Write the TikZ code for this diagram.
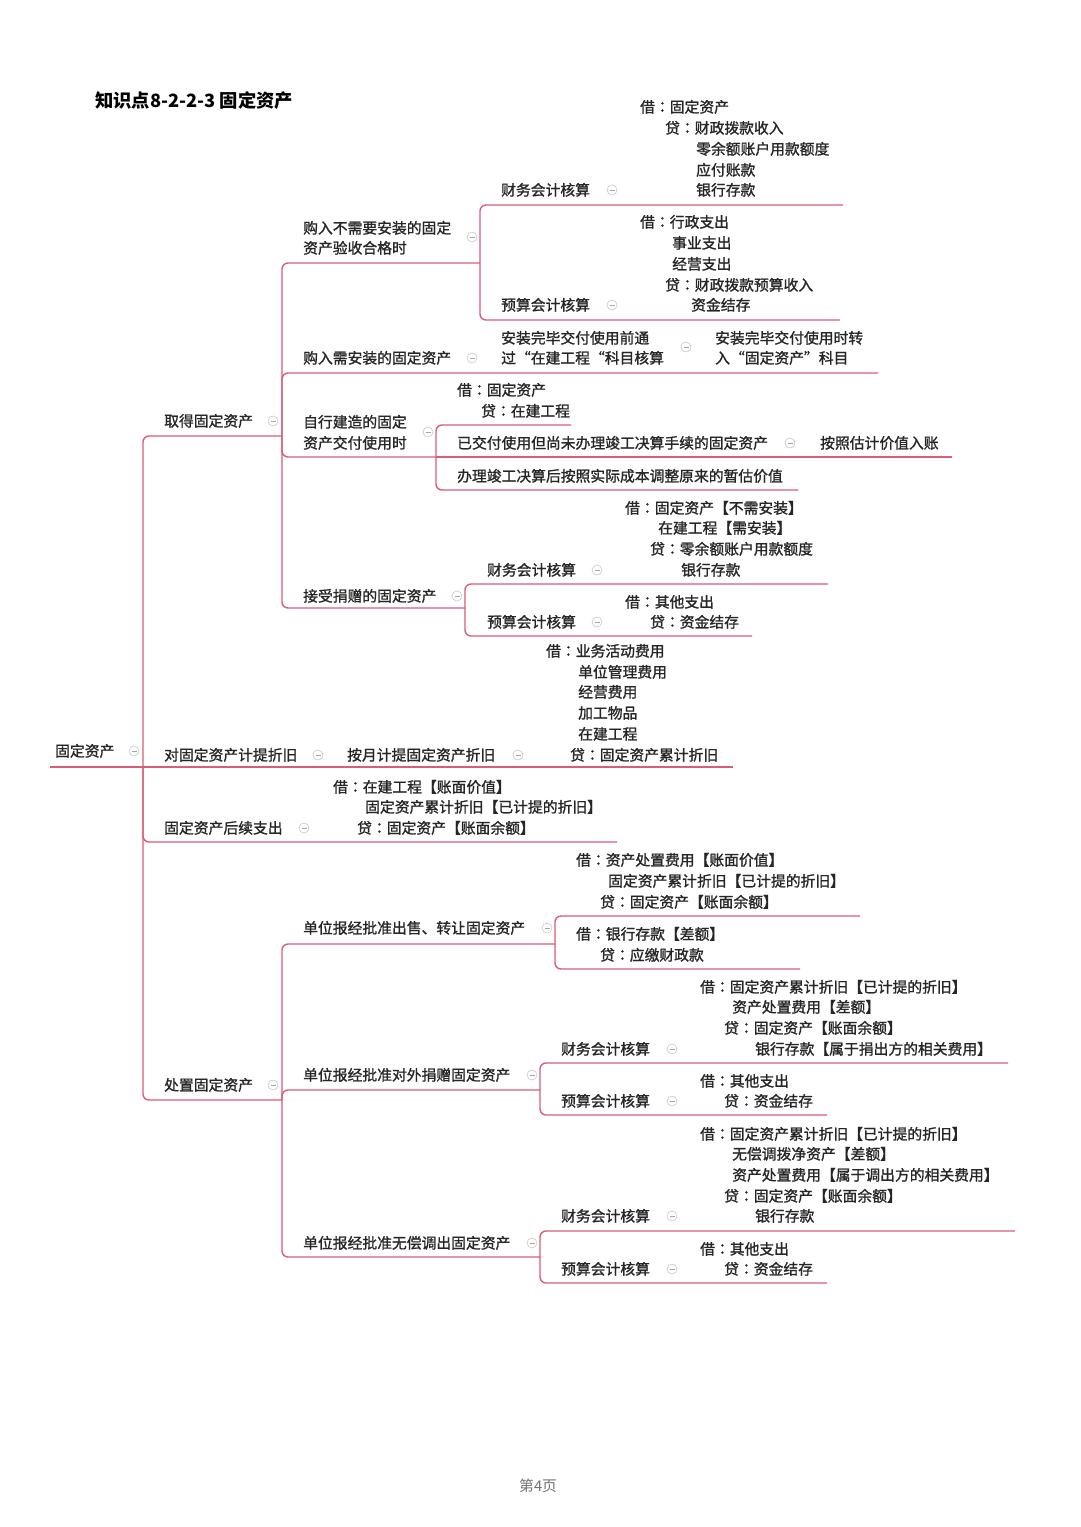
\documentclass[tikz,border=0pt]{standalone}
\usepackage{fontspec}
\newfontfamily\cjk[FakeBold=1.2]{Noto Sans CJK SC}
\newfontfamily\cjktc[FakeBold=1.2]{Noto Sans CJK TC}
\newfontfamily\cjkpg{Noto Sans CJK SC}
\newcommand\cl{{\cjktc ：}}
\definecolor{lc}{RGB}{217,92,122}
\definecolor{tc}{RGB}{38,38,38}
\begin{document}
\begin{tikzpicture}[x=1pt,y=-1pt,
  t/.style={anchor=base west, yshift=-5.5pt, inner sep=0pt, font=\cjk\fontsize{14.8}{20.7}\selectfont, text=tc},
  ln/.style={draw=lc, line width=1.4pt, rounded corners=6pt},
  tog/.style={circle, draw=black!22, fill=white, line width=0.6pt, minimum size=10pt, inner sep=0pt,
    path picture={\draw[black!35,line width=0.6pt] ([xshift=-2.5pt]path picture bounding box.center) -- ([xshift=2.5pt]path picture bounding box.center);}}]
\fill[white] (0,0) rectangle (1080,1527);
\useasboundingbox (0,0) rectangle (1080,1527);

% title and footer
\node[t, font=\cjkpg\bfseries\fontsize{18.3}{20}\selectfont, text=black, yshift=-1pt] (title) at (95,101) {知识点8-2-2-3 固定资产};
\node[t, text=black!55, font=\cjkpg\fontsize{14.8}{20.7}\selectfont] (pg) at (519,1486) {第4页};

% root
\node[t] (root) at (55,751) {固定资产};
\node[tog] (cr) at (134,751) {};
\coordinate (rs) at (50,767);
\coordinate (re) at (143,767);

% ===== 取得固定资产
\node[t] (a) at (164,421) {取得固定资产};
\node[tog] (ca) at (273,421) {};
\coordinate (ae) at (282,436);

% 购入不需要安装
\node[t] (a1a) at (303,228) {购入不需要安装的固定};
\node[t] (a1b) at (303,248) {资产验收合格时};
\node[tog] (ca1) at (472,237) {};
\coordinate (a1e) at (480,263);

\node[t] (a11) at (501,190) {财务会计核算};
\node[tog] (ca11) at (612,190) {};
\node[t] (a11l1) at (640,107) {借\cl 固定资产};
\node[t] (a11l2) at (665,128) {贷\cl 财政拨款收入};
\node[t] (a11l3) at (696,149) {零余额账户用款额度};
\node[t] (a11l4) at (696,170) {应付账款};
\node[t] (a11l5) at (696,190) {银行存款};
\coordinate (a11e) at (843,205);

\node[t] (a12) at (501,305) {预算会计核算};
\node[tog] (ca12) at (612,305) {};
\node[t] (a12l1) at (640,222) {借\cl 行政支出};
\node[t] (a12l2) at (672,243) {事业支出};
\node[t] (a12l3) at (672,264) {经营支出};
\node[t] (a12l4) at (665,285) {贷\cl 财政拨款预算收入};
\node[t] (a12l5) at (691,305) {资金结存};
\coordinate (a12e) at (840,320);

% 购入需安装
\node[t] (a2) at (303,358) {购入需安装的固定资产};
\node[tog] (ca2) at (472,358) {};
\node[t] (a21a) at (501,338) {安装完毕交付使用前通};
\node[t] (a21b) at (501,358) {过“在建工程“科目核算};
\node[tog] (ca21) at (686,347) {};
\node[t] (a22a) at (715,338) {安装完毕交付使用时转};
\node[t] (a22b) at (715,358) {入“固定资产”科目};
\coordinate (a2e) at (878,373);

% 自行建造
\node[t] (a3a) at (303,422) {自行建造的固定};
\node[t] (a3b) at (303,443) {资产交付使用时};
\node[tog] (ca3) at (428,432) {};
\coordinate (a3e) at (436,457);
\node[t] (a31a) at (457,390) {借\cl 固定资产};
\node[t] (a31b) at (481,411) {贷\cl 在建工程};
\coordinate (a31e) at (571,425);
\node[t] (a32) at (457,443) {已交付使用但尚未办理竣工决算手续的固定资产};
\node[tog] (ca32) at (790,443) {};
\node[t] (a321) at (820,443) {按照估计价值入账};
\coordinate (a32e) at (952,457);
\node[t] (a33) at (457,476) {办理竣工决算后按照实际成本调整原来的暂估价值};
\coordinate (a33e) at (798,490);

% 接受捐赠
\node[t] (a4) at (303,596) {接受捐赠的固定资产};
\node[tog] (ca4) at (457,596) {};
\coordinate (a4e) at (465,608);
\node[t] (a41) at (487,570) {财务会计核算};
\node[tog] (ca41) at (597,570) {};
\node[t] (a41l1) at (625,508) {借\cl 固定资产【不需安装】};
\node[t] (a41l2) at (658,528) {在建工程【需安装】};
\node[t] (a41l3) at (650,549) {贷\cl 零余额账户用款额度};
\node[t] (a41l4) at (681,570) {银行存款};
\coordinate (a41e) at (828,584);
\node[t] (a42) at (487,622) {预算会计核算};
\node[tog] (ca42) at (597,622) {};
\node[t] (a42l1) at (625,602) {借\cl 其他支出};
\node[t] (a42l2) at (650,622) {贷\cl 资金结存};
\coordinate (a42e) at (752,636);

% ===== 对固定资产计提折旧
\node[t] (b) at (164,755) {对固定资产计提折旧};
\node[tog] (cb) at (318,755) {};
\node[t] (b1) at (347,755) {按月计提固定资产折旧};
\node[tog] (cb1) at (518,755) {};
\node[t] (b1l1) at (546,651) {借\cl 业务活动费用};
\node[t] (b1l2) at (578,672) {单位管理费用};
\node[t] (b1l3) at (578,692) {经营费用};
\node[t] (b1l4) at (578,713) {加工物品};
\node[t] (b1l5) at (578,734) {在建工程};
\node[t] (b1l6) at (570,755) {贷\cl 固定资产累计折旧};
\coordinate (be) at (733,767);

% ===== 固定资产后续支出
\node[t] (c) at (164,828) {固定资产后续支出};
\node[tog] (cc) at (304,828) {};
\node[t] (cl1) at (333,787) {借\cl 在建工程【账面价值】};
\node[t] (cl2) at (365,807) {固定资产累计折旧【已计提的折旧】};
\node[t] (cl3) at (357,828) {贷\cl 固定资产【账面余额】};
\coordinate (ce) at (617,842);

% ===== 处置固定资产
\node[t] (d) at (164,1085) {处置固定资产};
\node[tog] (cd) at (273,1085) {};
\coordinate (de) at (282,1100);

\node[t] (d1) at (303,928) {单位报经批准出售、转让固定资产};
\node[tog] (cd1) at (547,928) {};
\coordinate (d1e) at (555,944);
\node[t] (d11l1) at (576,860) {借\cl 资产处置费用【账面价值】};
\node[t] (d11l2) at (608,881) {固定资产累计折旧【已计提的折旧】};
\node[t] (d11l3) at (600,902) {贷\cl 固定资产【账面余额】};
\coordinate (d11e) at (860,916);
\node[t] (d12l1) at (576,934) {借\cl 银行存款【差额】};
\node[t] (d12l2) at (600,955) {贷\cl 应缴财政款};
\coordinate (d12e) at (800,969);

\node[t] (d2) at (303,1075) {单位报经批准对外捐赠固定资产};
\node[tog] (cd2) at (532,1075) {};
\coordinate (d2e) at (540,1090);
\node[t] (d21) at (561,1049) {财务会计核算};
\node[tog] (cd21) at (672,1049) {};
\node[t] (d21l1) at (700,987) {借\cl 固定资产累计折旧【已计提的折旧】};
\node[t] (d21l2) at (732,1007) {资产处置费用【差额】};
\node[t] (d21l3) at (724,1028) {贷\cl 固定资产【账面余额】};
\node[t] (d21l4) at (755,1049) {银行存款【属于捐出方的相关费用】};
\coordinate (d21e) at (1008,1063);
\node[t] (d22) at (561,1101) {预算会计核算};
\node[tog] (cd22) at (672,1101) {};
\node[t] (d22l1) at (700,1081) {借\cl 其他支出};
\node[t] (d22l2) at (724,1101) {贷\cl 资金结存};
\coordinate (d22e) at (827,1115);

\node[t] (d3) at (303,1243) {单位报经批准无偿调出固定资产};
\node[tog] (cd3) at (532,1243) {};
\coordinate (d3e) at (540,1257);
\node[t] (d31) at (561,1216) {财务会计核算};
\node[tog] (cd31) at (672,1216) {};
\node[t] (d31l1) at (700,1134) {借\cl 固定资产累计折旧【已计提的折旧】};
\node[t] (d31l2) at (732,1154) {无偿调拨净资产【差额】};
\node[t] (d31l3) at (732,1175) {资产处置费用【属于调出方的相关费用】};
\node[t] (d31l4) at (724,1196) {贷\cl 固定资产【账面余额】};
\node[t] (d31l5) at (755,1216) {银行存款};
\coordinate (d31e) at (1015,1231);
\node[t] (d32) at (561,1269) {预算会计核算};
\node[tog] (cd32) at (672,1269) {};
\node[t] (d32l1) at (700,1249) {借\cl 其他支出};
\node[t] (d32l2) at (724,1269) {贷\cl 资金结存};
\coordinate (d32e) at (827,1283);

% ===== connectors (underline branches)
\draw[ln] (rs) -- (re);
\draw[ln] (re) |- (ae);
\draw[ln] (re) -- (be);
\draw[ln] (re) |- (ce);
\draw[ln] (re) |- (de);

\draw[ln] (ae) |- (a1e);
\draw[ln] (ae) |- (a2e);
\draw[ln] (ae) |- (a3e);
\draw[ln] (ae) |- (a4e);

\draw[ln] (a1e) |- (a11e);
\draw[ln] (a1e) |- (a12e);
\draw[ln] (a3e) |- (a31e);
\draw[ln] (a3e) -- (a32e);
\draw[ln] (a3e) |- (a33e);
\draw[ln] (a4e) |- (a41e);
\draw[ln] (a4e) |- (a42e);

\draw[ln] (de) |- (d1e);
\draw[ln] (de) |- (d2e);
\draw[ln] (de) |- (d3e);
\draw[ln] (d1e) |- (d11e);
\draw[ln] (d1e) |- (d12e);
\draw[ln] (d2e) |- (d21e);
\draw[ln] (d2e) |- (d22e);
\draw[ln] (d3e) |- (d31e);
\draw[ln] (d3e) |- (d32e);
\end{tikzpicture}
\end{document}
